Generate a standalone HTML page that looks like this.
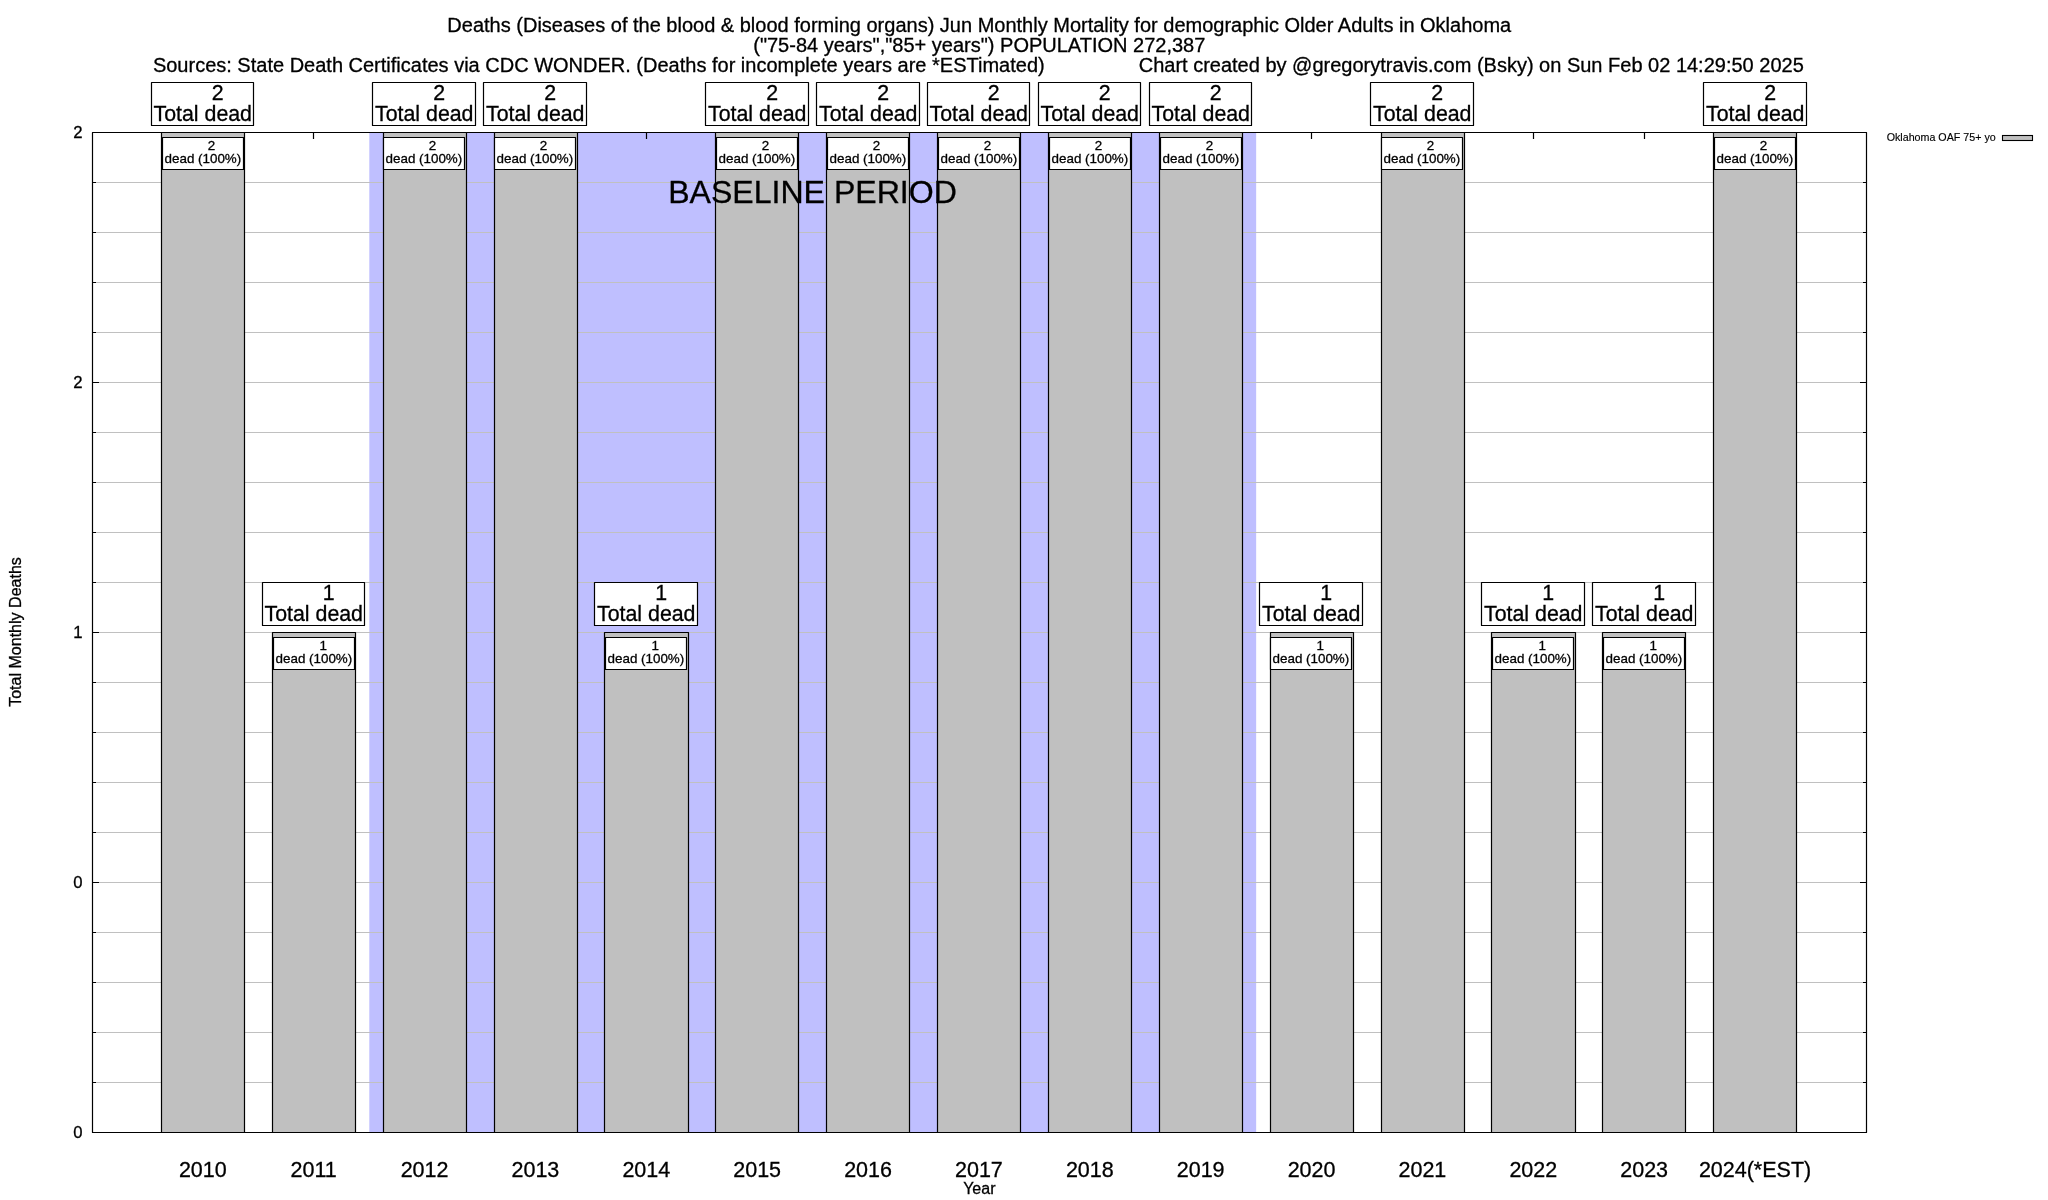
<!DOCTYPE html><html><head><meta charset="utf-8"><title>Jun Monthly Mortality - Older Adults in Oklahoma</title>
<style>html,body{margin:0;padding:0;background:#fff;overflow:hidden}svg{display:block;will-change:transform}text{font-family:"Liberation Sans",Arial,Helvetica,sans-serif;fill:#000;stroke:#000;stroke-width:0.3px}</style></head><body>
<svg width="2048" height="1200" viewBox="0 0 2048 1200">
<rect x="0" y="0" width="2048" height="1200" fill="#fff"/>
<rect x="369.31" y="132.5" width="886.85" height="1000" fill="#bfbfff"/>
<path d="M92.5 182.5H1866.5M92.5 232.5H1866.5M92.5 282.5H1866.5M92.5 332.5H1866.5M92.5 382.5H1866.5M92.5 432.5H1866.5M92.5 482.5H1866.5M92.5 532.5H1866.5M92.5 582.5H1866.5M92.5 632.5H1866.5M92.5 682.5H1866.5M92.5 732.5H1866.5M92.5 782.5H1866.5M92.5 832.5H1866.5M92.5 882.5H1866.5M92.5 932.5H1866.5M92.5 982.5H1866.5M92.5 1032.5H1866.5M92.5 1082.5H1866.5" stroke="#c0c0c0" stroke-width="1" fill="none"/>
<path d="M92.5 132.5h6.5M1866.5 132.5h-6.5M92.5 182.5h3.5M1866.5 182.5h-3.5M92.5 232.5h3.5M1866.5 232.5h-3.5M92.5 282.5h3.5M1866.5 282.5h-3.5M92.5 332.5h3.5M1866.5 332.5h-3.5M92.5 382.5h6.5M1866.5 382.5h-6.5M92.5 432.5h3.5M1866.5 432.5h-3.5M92.5 482.5h3.5M1866.5 482.5h-3.5M92.5 532.5h3.5M1866.5 532.5h-3.5M92.5 582.5h3.5M1866.5 582.5h-3.5M92.5 632.5h6.5M1866.5 632.5h-6.5M92.5 682.5h3.5M1866.5 682.5h-3.5M92.5 732.5h3.5M1866.5 732.5h-3.5M92.5 782.5h3.5M1866.5 782.5h-3.5M92.5 832.5h3.5M1866.5 832.5h-3.5M92.5 882.5h6.5M1866.5 882.5h-6.5M92.5 932.5h3.5M1866.5 932.5h-3.5M92.5 982.5h3.5M1866.5 982.5h-3.5M92.5 1032.5h3.5M1866.5 1032.5h-3.5M92.5 1082.5h3.5M1866.5 1082.5h-3.5M92.5 1132.5h6.5M1866.5 1132.5h-6.5M202.5 132.5v6.5M202.5 1132.5v-6.5M313.5 132.5v6.5M313.5 1132.5v-6.5M424.5 132.5v6.5M424.5 1132.5v-6.5M535.5 132.5v6.5M535.5 1132.5v-6.5M646.5 132.5v6.5M646.5 1132.5v-6.5M757.5 132.5v6.5M757.5 1132.5v-6.5M868.5 132.5v6.5M868.5 1132.5v-6.5M979.5 132.5v6.5M979.5 1132.5v-6.5M1089.5 132.5v6.5M1089.5 1132.5v-6.5M1200.5 132.5v6.5M1200.5 1132.5v-6.5M1311.5 132.5v6.5M1311.5 1132.5v-6.5M1422.5 132.5v6.5M1422.5 1132.5v-6.5M1533.5 132.5v6.5M1533.5 1132.5v-6.5M1644.5 132.5v6.5M1644.5 1132.5v-6.5M1755.5 132.5v6.5M1755.5 1132.5v-6.5" stroke="#000" stroke-width="1.2" fill="none"/>
<rect x="92.5" y="132.5" width="1774" height="1000" fill="none" stroke="#000" stroke-width="1.2" stroke-linejoin="round"/>
<rect x="161.5" y="132.5" width="83.0" height="1000.0" fill="#c0c0c0" stroke="#000" stroke-width="1.2" stroke-linejoin="round"/>
<rect x="272.5" y="632.5" width="83.0" height="500.0" fill="#c0c0c0" stroke="#000" stroke-width="1.2" stroke-linejoin="round"/>
<rect x="383.5" y="132.5" width="83.0" height="1000.0" fill="#c0c0c0" stroke="#000" stroke-width="1.2" stroke-linejoin="round"/>
<rect x="494.5" y="132.5" width="83.0" height="1000.0" fill="#c0c0c0" stroke="#000" stroke-width="1.2" stroke-linejoin="round"/>
<rect x="604.5" y="632.5" width="84.0" height="500.0" fill="#c0c0c0" stroke="#000" stroke-width="1.2" stroke-linejoin="round"/>
<rect x="715.5" y="132.5" width="83.0" height="1000.0" fill="#c0c0c0" stroke="#000" stroke-width="1.2" stroke-linejoin="round"/>
<rect x="826.5" y="132.5" width="83.0" height="1000.0" fill="#c0c0c0" stroke="#000" stroke-width="1.2" stroke-linejoin="round"/>
<rect x="937.5" y="132.5" width="83.0" height="1000.0" fill="#c0c0c0" stroke="#000" stroke-width="1.2" stroke-linejoin="round"/>
<rect x="1048.5" y="132.5" width="83.0" height="1000.0" fill="#c0c0c0" stroke="#000" stroke-width="1.2" stroke-linejoin="round"/>
<rect x="1159.5" y="132.5" width="83.0" height="1000.0" fill="#c0c0c0" stroke="#000" stroke-width="1.2" stroke-linejoin="round"/>
<rect x="1270.5" y="632.5" width="83.0" height="500.0" fill="#c0c0c0" stroke="#000" stroke-width="1.2" stroke-linejoin="round"/>
<rect x="1381.5" y="132.5" width="83.0" height="1000.0" fill="#c0c0c0" stroke="#000" stroke-width="1.2" stroke-linejoin="round"/>
<rect x="1491.5" y="632.5" width="84.0" height="500.0" fill="#c0c0c0" stroke="#000" stroke-width="1.2" stroke-linejoin="round"/>
<rect x="1602.5" y="632.5" width="83.0" height="500.0" fill="#c0c0c0" stroke="#000" stroke-width="1.2" stroke-linejoin="round"/>
<rect x="1713.5" y="132.5" width="83.0" height="1000.0" fill="#c0c0c0" stroke="#000" stroke-width="1.2" stroke-linejoin="round"/>
<rect x="162.5" y="137.5" width="81.0" height="32" fill="#fff" stroke="#000" stroke-width="1.2" stroke-linejoin="round"/>
<text x="211.60" y="150.00" font-size="13.4" text-anchor="middle">2</text>
<text x="202.90" y="162.90" font-size="13.4" text-anchor="middle">dead (100%)</text>
<rect x="273.5" y="637.5" width="81.0" height="32" fill="#fff" stroke="#000" stroke-width="1.2" stroke-linejoin="round"/>
<text x="323.20" y="650.00" font-size="13.4" text-anchor="middle">1</text>
<text x="313.90" y="662.90" font-size="13.4" text-anchor="middle">dead (100%)</text>
<rect x="383.5" y="137.5" width="81.0" height="32" fill="#fff" stroke="#000" stroke-width="1.2" stroke-linejoin="round"/>
<text x="432.60" y="150.00" font-size="13.4" text-anchor="middle">2</text>
<text x="423.90" y="162.90" font-size="13.4" text-anchor="middle">dead (100%)</text>
<rect x="494.5" y="137.5" width="81.0" height="32" fill="#fff" stroke="#000" stroke-width="1.2" stroke-linejoin="round"/>
<text x="543.60" y="150.00" font-size="13.4" text-anchor="middle">2</text>
<text x="534.90" y="162.90" font-size="13.4" text-anchor="middle">dead (100%)</text>
<rect x="605.5" y="637.5" width="81.0" height="32" fill="#fff" stroke="#000" stroke-width="1.2" stroke-linejoin="round"/>
<text x="655.20" y="650.00" font-size="13.4" text-anchor="middle">1</text>
<text x="645.90" y="662.90" font-size="13.4" text-anchor="middle">dead (100%)</text>
<rect x="716.5" y="137.5" width="81.0" height="32" fill="#fff" stroke="#000" stroke-width="1.2" stroke-linejoin="round"/>
<text x="765.60" y="150.00" font-size="13.4" text-anchor="middle">2</text>
<text x="756.90" y="162.90" font-size="13.4" text-anchor="middle">dead (100%)</text>
<rect x="827.5" y="137.5" width="81.0" height="32" fill="#fff" stroke="#000" stroke-width="1.2" stroke-linejoin="round"/>
<text x="876.60" y="150.00" font-size="13.4" text-anchor="middle">2</text>
<text x="867.90" y="162.90" font-size="13.4" text-anchor="middle">dead (100%)</text>
<rect x="938.5" y="137.5" width="81.0" height="32" fill="#fff" stroke="#000" stroke-width="1.2" stroke-linejoin="round"/>
<text x="987.60" y="150.00" font-size="13.4" text-anchor="middle">2</text>
<text x="978.90" y="162.90" font-size="13.4" text-anchor="middle">dead (100%)</text>
<rect x="1049.5" y="137.5" width="81.0" height="32" fill="#fff" stroke="#000" stroke-width="1.2" stroke-linejoin="round"/>
<text x="1098.60" y="150.00" font-size="13.4" text-anchor="middle">2</text>
<text x="1089.90" y="162.90" font-size="13.4" text-anchor="middle">dead (100%)</text>
<rect x="1160.5" y="137.5" width="81.0" height="32" fill="#fff" stroke="#000" stroke-width="1.2" stroke-linejoin="round"/>
<text x="1209.60" y="150.00" font-size="13.4" text-anchor="middle">2</text>
<text x="1200.90" y="162.90" font-size="13.4" text-anchor="middle">dead (100%)</text>
<rect x="1270.5" y="637.5" width="81.0" height="32" fill="#fff" stroke="#000" stroke-width="1.2" stroke-linejoin="round"/>
<text x="1320.20" y="650.00" font-size="13.4" text-anchor="middle">1</text>
<text x="1310.90" y="662.90" font-size="13.4" text-anchor="middle">dead (100%)</text>
<rect x="1381.5" y="137.5" width="81.0" height="32" fill="#fff" stroke="#000" stroke-width="1.2" stroke-linejoin="round"/>
<text x="1430.60" y="150.00" font-size="13.4" text-anchor="middle">2</text>
<text x="1421.90" y="162.90" font-size="13.4" text-anchor="middle">dead (100%)</text>
<rect x="1492.5" y="637.5" width="81.0" height="32" fill="#fff" stroke="#000" stroke-width="1.2" stroke-linejoin="round"/>
<text x="1542.20" y="650.00" font-size="13.4" text-anchor="middle">1</text>
<text x="1532.90" y="662.90" font-size="13.4" text-anchor="middle">dead (100%)</text>
<rect x="1603.5" y="637.5" width="81.0" height="32" fill="#fff" stroke="#000" stroke-width="1.2" stroke-linejoin="round"/>
<text x="1653.20" y="650.00" font-size="13.4" text-anchor="middle">1</text>
<text x="1643.90" y="662.90" font-size="13.4" text-anchor="middle">dead (100%)</text>
<rect x="1714.5" y="137.5" width="81.0" height="32" fill="#fff" stroke="#000" stroke-width="1.2" stroke-linejoin="round"/>
<text x="1763.60" y="150.00" font-size="13.4" text-anchor="middle">2</text>
<text x="1754.90" y="162.90" font-size="13.4" text-anchor="middle">dead (100%)</text>
<rect x="151.5" y="82.5" width="102.0" height="43" fill="#fff" stroke="#000" stroke-width="1.2" stroke-linejoin="round"/>
<text x="217.75" y="99.80" font-size="21.35" text-anchor="middle">2</text>
<text x="202.75" y="120.80" font-size="21.35" text-anchor="middle">Total dead</text>
<rect x="262.5" y="582.5" width="102.0" height="43" fill="#fff" stroke="#000" stroke-width="1.2" stroke-linejoin="round"/>
<text x="328.65" y="599.80" font-size="21.35" text-anchor="middle">1</text>
<text x="313.75" y="620.80" font-size="21.35" text-anchor="middle">Total dead</text>
<rect x="372.5" y="82.5" width="103.0" height="43" fill="#fff" stroke="#000" stroke-width="1.2" stroke-linejoin="round"/>
<text x="439.25" y="99.80" font-size="21.35" text-anchor="middle">2</text>
<text x="424.25" y="120.80" font-size="21.35" text-anchor="middle">Total dead</text>
<rect x="483.5" y="82.5" width="103.0" height="43" fill="#fff" stroke="#000" stroke-width="1.2" stroke-linejoin="round"/>
<text x="550.25" y="99.80" font-size="21.35" text-anchor="middle">2</text>
<text x="535.25" y="120.80" font-size="21.35" text-anchor="middle">Total dead</text>
<rect x="594.5" y="582.5" width="103.0" height="43" fill="#fff" stroke="#000" stroke-width="1.2" stroke-linejoin="round"/>
<text x="661.15" y="599.80" font-size="21.35" text-anchor="middle">1</text>
<text x="646.25" y="620.80" font-size="21.35" text-anchor="middle">Total dead</text>
<rect x="705.5" y="82.5" width="103.0" height="43" fill="#fff" stroke="#000" stroke-width="1.2" stroke-linejoin="round"/>
<text x="772.25" y="99.80" font-size="21.35" text-anchor="middle">2</text>
<text x="757.25" y="120.80" font-size="21.35" text-anchor="middle">Total dead</text>
<rect x="816.5" y="82.5" width="103.0" height="43" fill="#fff" stroke="#000" stroke-width="1.2" stroke-linejoin="round"/>
<text x="883.25" y="99.80" font-size="21.35" text-anchor="middle">2</text>
<text x="868.25" y="120.80" font-size="21.35" text-anchor="middle">Total dead</text>
<rect x="927.5" y="82.5" width="102.0" height="43" fill="#fff" stroke="#000" stroke-width="1.2" stroke-linejoin="round"/>
<text x="993.75" y="99.80" font-size="21.35" text-anchor="middle">2</text>
<text x="978.75" y="120.80" font-size="21.35" text-anchor="middle">Total dead</text>
<rect x="1038.5" y="82.5" width="102.0" height="43" fill="#fff" stroke="#000" stroke-width="1.2" stroke-linejoin="round"/>
<text x="1104.75" y="99.80" font-size="21.35" text-anchor="middle">2</text>
<text x="1089.75" y="120.80" font-size="21.35" text-anchor="middle">Total dead</text>
<rect x="1149.5" y="82.5" width="102.0" height="43" fill="#fff" stroke="#000" stroke-width="1.2" stroke-linejoin="round"/>
<text x="1215.75" y="99.80" font-size="21.35" text-anchor="middle">2</text>
<text x="1200.75" y="120.80" font-size="21.35" text-anchor="middle">Total dead</text>
<rect x="1259.5" y="582.5" width="103.0" height="43" fill="#fff" stroke="#000" stroke-width="1.2" stroke-linejoin="round"/>
<text x="1326.15" y="599.80" font-size="21.35" text-anchor="middle">1</text>
<text x="1311.25" y="620.80" font-size="21.35" text-anchor="middle">Total dead</text>
<rect x="1370.5" y="82.5" width="103.0" height="43" fill="#fff" stroke="#000" stroke-width="1.2" stroke-linejoin="round"/>
<text x="1437.25" y="99.80" font-size="21.35" text-anchor="middle">2</text>
<text x="1422.25" y="120.80" font-size="21.35" text-anchor="middle">Total dead</text>
<rect x="1481.5" y="582.5" width="103.0" height="43" fill="#fff" stroke="#000" stroke-width="1.2" stroke-linejoin="round"/>
<text x="1548.15" y="599.80" font-size="21.35" text-anchor="middle">1</text>
<text x="1533.25" y="620.80" font-size="21.35" text-anchor="middle">Total dead</text>
<rect x="1592.5" y="582.5" width="103.0" height="43" fill="#fff" stroke="#000" stroke-width="1.2" stroke-linejoin="round"/>
<text x="1659.15" y="599.80" font-size="21.35" text-anchor="middle">1</text>
<text x="1644.25" y="620.80" font-size="21.35" text-anchor="middle">Total dead</text>
<rect x="1703.5" y="82.5" width="103.0" height="43" fill="#fff" stroke="#000" stroke-width="1.2" stroke-linejoin="round"/>
<text x="1770.25" y="99.80" font-size="21.35" text-anchor="middle">2</text>
<text x="1755.25" y="120.80" font-size="21.35" text-anchor="middle">Total dead</text>
<text x="668.2" y="203.35" font-size="32.07">BASELINE PERIOD</text>
<text x="202.80" y="1176.8" font-size="21.5" text-anchor="middle">2010</text>
<text x="313.68" y="1176.8" font-size="21.5" text-anchor="middle">2011</text>
<text x="424.55" y="1176.8" font-size="21.5" text-anchor="middle">2012</text>
<text x="535.42" y="1176.8" font-size="21.5" text-anchor="middle">2013</text>
<text x="646.30" y="1176.8" font-size="21.5" text-anchor="middle">2014</text>
<text x="757.17" y="1176.8" font-size="21.5" text-anchor="middle">2015</text>
<text x="868.05" y="1176.8" font-size="21.5" text-anchor="middle">2016</text>
<text x="978.92" y="1176.8" font-size="21.5" text-anchor="middle">2017</text>
<text x="1089.80" y="1176.8" font-size="21.5" text-anchor="middle">2018</text>
<text x="1200.67" y="1176.8" font-size="21.5" text-anchor="middle">2019</text>
<text x="1311.55" y="1176.8" font-size="21.5" text-anchor="middle">2020</text>
<text x="1422.42" y="1176.8" font-size="21.5" text-anchor="middle">2021</text>
<text x="1533.30" y="1176.8" font-size="21.5" text-anchor="middle">2022</text>
<text x="1644.17" y="1176.8" font-size="21.5" text-anchor="middle">2023</text>
<text x="1755.05" y="1176.8" font-size="21.5" text-anchor="middle">2024(*EST)</text>
<text x="82.6" y="1138.00" font-size="16.7" text-anchor="end">0</text>
<text x="82.6" y="888.00" font-size="16.7" text-anchor="end">0</text>
<text x="82.6" y="638.00" font-size="16.7" text-anchor="end">1</text>
<text x="82.6" y="388.00" font-size="16.7" text-anchor="end">2</text>
<text x="82.6" y="138.00" font-size="16.7" text-anchor="end">2</text>
<text x="979.3" y="1193.8" font-size="16" text-anchor="middle">Year</text>
<text transform="translate(20.9 632) rotate(-90)" x="0" y="0" font-size="16.05" text-anchor="middle">Total Monthly Deaths</text>
<text x="979.3" y="31.9" font-size="20" text-anchor="middle">Deaths (Diseases of the blood &amp; blood forming organs) Jun Monthly Mortality for demographic Older Adults in Oklahoma</text>
<text x="979.3" y="51.8" font-size="20" text-anchor="middle">("75-84 years","85+ years") POPULATION 272,387</text>
<text x="152.9" y="71.9" font-size="20">Sources: State Death Certificates via CDC WONDER. (Deaths for incomplete years are *ESTimated)</text>
<text x="1138.7" y="71.9" font-size="20">Chart created by @gregorytravis.com (Bsky) on Sun Feb 02 14:29:50 2025</text>
<text x="1886.7" y="140.7" font-size="10.7" style="stroke-width:0.15px">Oklahoma OAF 75+ yo</text>
<rect x="2002.5" y="135.5" width="30" height="5" fill="#c0c0c0" stroke="#000" stroke-width="1.1"/>
</svg></body></html>
